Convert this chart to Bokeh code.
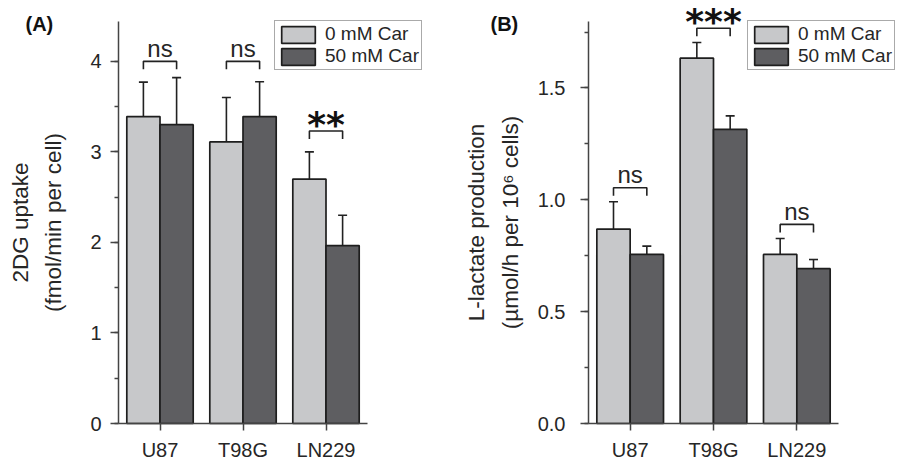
from bokeh.plotting import figure
from bokeh.layouts import row
from bokeh.models import (ColumnDataSource, Range1d, FixedTicker, SingleIntervalTicker,
                          Whisker, TeeHead, Legend, LegendItem, Label, PrintfTickFormatter,
                          LinearAxis)
from bokeh.core.properties import value
from bokeh.embed import file_html
from bokeh.resources import INLINE

# ---------------- data ----------------
categories = ["U87", "T98G", "LN229"]
series_labels = ["0 mM Car", "50 mM Car"]

uptake_0 = [3.39, 3.11, 2.70]
uptake_0_err = [0.38, 0.49, 0.30]
uptake_50 = [3.30, 3.39, 1.965]
uptake_50_err = [0.52, 0.385, 0.335]
uptake_sig = ["ns", "ns", "**"]
uptake_sig_y = [4.0, 4.0, 3.23]

lactate_0 = [0.869, 1.633, 0.756]
lactate_0_err = [0.122, 0.07, 0.071]
lactate_50 = [0.756, 1.315, 0.692]
lactate_50_err = [0.037, 0.06, 0.041]
lactate_sig = ["ns", "***", "ns"]
lactate_sig_y = [1.054, 1.767, 0.89]

FONT = "Liberation Sans"
LIGHT = "#c7c8ca"
DARK = "#5e5e61"
EDGE = "#1e1e1e"
TXT = "#262626"
W, H = 451, 462
AX_TOP, AX_BOTTOM = 21, 423   # pixel rows of the plotting area


def panel(tag, vals0, err0, vals1, err1, sig, sig_y, ymax, ylabel, interval, fmt,
          ax_left, ax_right, tick_standoff, label_standoff, tag_x, legend_x):
    # whole figure is the frame; axes are placed at fixed data locations
    xppu = (ax_right - ax_left) / 3.0
    yppu = (AX_BOTTOM - AX_TOP) / ymax
    x_rng = Range1d(0.5 - ax_left / xppu, 0.5 + (W - ax_left) / xppu)
    y_rng = Range1d(-(H - AX_BOTTOM) / yppu, ymax + AX_TOP / yppu)
    p = figure(width=W, height=H, output_backend="svg", toolbar_location=None,
               x_range=x_rng, y_range=y_rng, x_axis_location=None, y_axis_location=None,
               min_border=0, min_border_left=0, min_border_right=0,
               min_border_top=0, min_border_bottom=0)
    p.outline_line_color = None
    p.background_fill_color = "white"
    p.border_fill_color = "white"
    p.grid.visible = False

    xc = [i + 1 for i in range(len(categories))]
    x0 = [x - 0.2 for x in xc]
    x1 = [x + 0.2 for x in xc]
    s0 = ColumnDataSource(dict(x=x0, top=vals0, upper=[v + e for v, e in zip(vals0, err0)],
                               lower=[v - e for v, e in zip(vals0, err0)]))
    s1 = ColumnDataSource(dict(x=x1, top=vals1, upper=[v + e for v, e in zip(vals1, err1)],
                               lower=[v - e for v, e in zip(vals1, err1)]))
    r0 = p.vbar(x="x", top="top", width=0.4, bottom=0, source=s0,
                fill_color=LIGHT, line_color=EDGE, line_width=1.7)
    r1 = p.vbar(x="x", top="top", width=0.4, bottom=0, source=s1,
                fill_color=DARK, line_color=EDGE, line_width=1.7)
    for s in (s0, s1):
        w = Whisker(base="x", upper="upper", lower="lower", source=s,
                    line_color="#222222", line_width=1.6,
                    upper_head=TeeHead(size=9, line_color="#222222", line_width=1.6),
                    lower_head=TeeHead(size=9, line_color="#222222", line_width=1.6))
        p.add_layout(w)

    # significance brackets
    leg = 8 / yppu
    xs = [[a, a, b, b] for a, b in zip(x0, x1)]
    ys = [[y - leg, y, y, y - leg] for y in sig_y]
    p.multi_line(xs=xs, ys=ys, line_color="#222222", line_width=1.6)
    ns_idx = [i for i, t in enumerate(sig) if t == "ns"]
    st_idx = [i for i, t in enumerate(sig) if t != "ns"]
    p.text(x=[xc[i] for i in ns_idx], y=[sig_y[i] + 13 / yppu for i in ns_idx],
           text=[sig[i] for i in ns_idx],
           text_align="center", text_baseline="alphabetic",
           text_font=value(FONT), text_font_size="24px", text_color=TXT)
    p.text(x=[xc[i] for i in st_idx], y=[sig_y[i] + 7 / yppu for i in st_idx],
           text=[sig[i] for i in st_idx],
           text_align="center", text_baseline="middle",
           text_font=value("DejaVu Sans"), text_font_style="bold",
           text_font_size="36px", text_color="#111111")

    # axes at fixed locations
    xaxis = LinearAxis(fixed_location=0, bounds=(0.5, 3.5))
    yaxis = LinearAxis(fixed_location=0.5, bounds=(0, ymax))
    p.add_layout(xaxis, "below")
    p.add_layout(yaxis, "left")
    xaxis.ticker = FixedTicker(ticks=xc)
    xaxis.major_label_overrides = {x: c for x, c in zip(xc, categories)}
    xaxis.minor_tick_line_color = None
    xaxis.major_tick_out = 7
    xaxis.major_tick_in = 0
    xaxis.major_label_standoff = 8
    yaxis.ticker = SingleIntervalTicker(interval=interval, num_minor_ticks=2)
    yaxis.formatter = PrintfTickFormatter(format=fmt)
    yaxis.major_tick_out = 8
    yaxis.major_tick_in = 0
    yaxis.minor_tick_out = 4
    yaxis.minor_tick_in = 0
    yaxis.major_label_standoff = tick_standoff
    yaxis.axis_label = ylabel
    yaxis.axis_label_standoff = label_standoff
    yaxis.axis_label_text_font = FONT
    yaxis.axis_label_text_font_size = "22.5px"
    yaxis.axis_label_text_font_style = "normal"
    yaxis.axis_label_text_color = TXT
    yaxis.axis_label_text_line_height = 1.35
    yaxis.minor_tick_line_color = "#444444"
    yaxis.minor_tick_line_width = 1.5
    for ax in (xaxis, yaxis):
        ax.axis_line_color = "#444444"
        ax.axis_line_width = 1.5
        ax.major_tick_line_color = "#444444"
        ax.major_tick_line_width = 1.5
        ax.major_label_text_font = FONT
        ax.major_label_text_font_size = "20px"
        ax.major_label_text_color = TXT

    legend = Legend(items=[LegendItem(label=series_labels[0], renderers=[r0]),
                           LegendItem(label=series_labels[1], renderers=[r1])],
                    location=(legend_x, H - 70),
                    glyph_width=42, glyph_height=21, label_height=20,
                    label_standoff=6, spacing=0, padding=2, margin=0,
                    label_text_font=FONT, label_text_font_size="19px",
                    label_text_color=TXT,
                    border_line_color="#555555", border_line_width=1.2,
                    background_fill_alpha=1.0)
    p.add_layout(legend)

    p.add_layout(Label(x=tag_x, y=H - 12, x_units="screen", y_units="screen",
                       text=tag, text_font=FONT, text_font_style="bold",
                       text_font_size="20px", text_color="#111111",
                       text_baseline="top"))
    return p


pA = panel("(A)", uptake_0, uptake_0_err, uptake_50, uptake_50_err, uptake_sig, uptake_sig_y,
           4.44, "2DG uptake\n(fmol/min per cell)", 1, "%d", 118, 367, 9, 21, 25, 274)
pB = panel("(B)", lactate_0, lactate_0_err, lactate_50, lactate_50_err, lactate_sig, lactate_sig_y,
           1.797, "L-lactate production\n(µmol/h per 10⁶ cells)", 0.5, "%.1f", 137, 387, 15, 12, 39, 296)

layout = row(pA, pB, spacing=0)
open("out.html", "w").write(file_html(layout, INLINE))
